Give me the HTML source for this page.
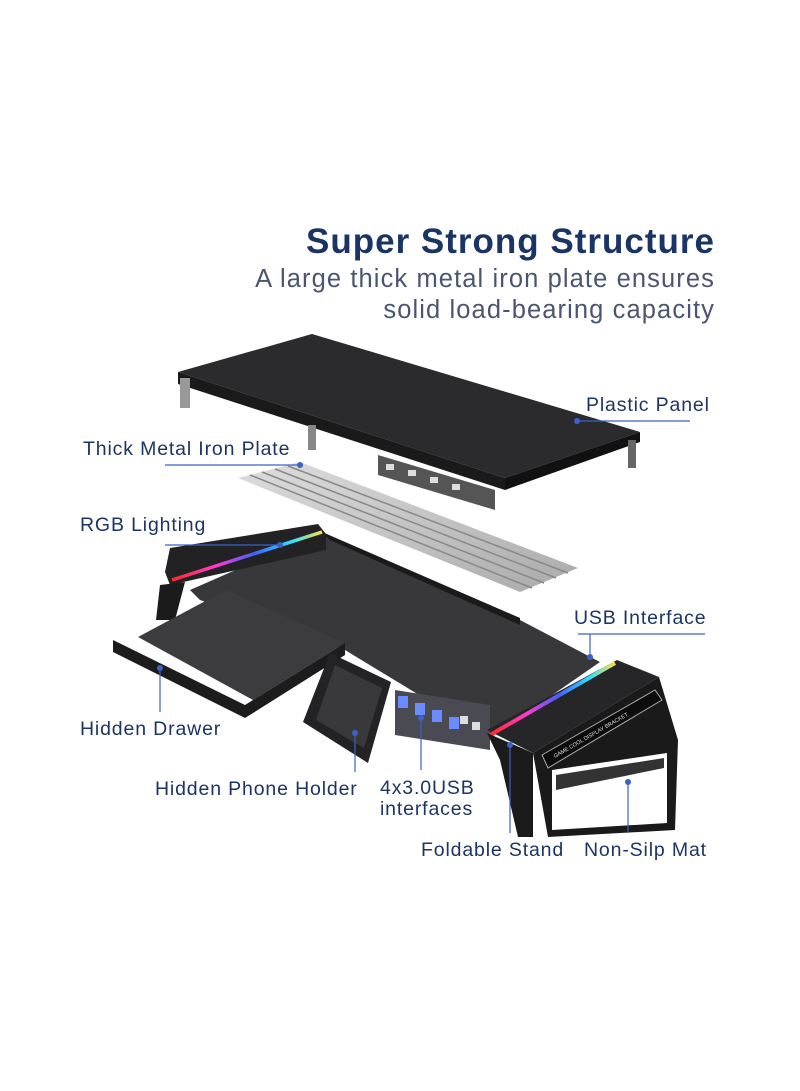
<!DOCTYPE html>
<html><head><meta charset="utf-8"><style>
html,body{margin:0;padding:0;background:#fff;}
body{width:800px;height:1091px;position:relative;overflow:hidden;font-family:"Liberation Sans",sans-serif;}
.t{position:absolute;color:#1d3563;font-size:19.5px;letter-spacing:0.85px;white-space:nowrap;}
</style></head><body>
<div style="position:absolute;right:85px;top:222px;font-size:35px;letter-spacing:1px;font-weight:bold;color:#1a3466;">Super Strong Structure</div>
<div style="position:absolute;right:85px;top:264px;font-size:25.5px;letter-spacing:1.1px;color:#4a5670;text-align:right;line-height:31px;">A large thick metal iron plate ensures<br>solid load-bearing capacity</div>
<svg width="800" height="1091" style="position:absolute;left:0;top:0">
<defs>
<linearGradient id="rgb" x1="0" x2="1"><stop offset="0" stop-color="#ff2a2a"/><stop offset=".3" stop-color="#ff3bd0"/><stop offset=".55" stop-color="#4060ff"/><stop offset=".8" stop-color="#30e0ff"/><stop offset="1" stop-color="#ffe040"/></linearGradient>
<linearGradient id="met" x1="0" x2="1" y1="0" y2="1"><stop offset="0" stop-color="#ddd"/><stop offset="1" stop-color="#aaa"/></linearGradient>
</defs>
<polygon points="178,372 312,334 640,432 505,478" fill="#2b2b2d"/>
<polygon points="505,478 640,432 640,442 505,490" fill="#111"/>
<polygon points="178,372 505,478 505,490 178,384" fill="#1a1a1b"/>
<rect x="180" y="378" width="10" height="30" fill="#999"/>
<rect x="308" y="425" width="8" height="25" fill="#888"/>
<rect x="628" y="440" width="8" height="28" fill="#666"/>
<polygon points="378,455 495,490 495,510 378,475" fill="#555"/>
<g fill="#ddd"><rect x="386" y="464" width="8" height="6"/><rect x="408" y="470" width="8" height="6"/><rect x="430" y="477" width="8" height="6"/><rect x="452" y="484" width="8" height="6"/></g>
<polygon points="238,478 300,462 578,568 520,592" fill="url(#met)"/>
<g stroke="#888" stroke-width="1.5"><line x1="250" y1="475" x2="532" y2="588"/><line x1="262" y1="472" x2="544" y2="583"/><line x1="275" y1="469" x2="556" y2="578"/><line x1="288" y1="466" x2="568" y2="573"/></g>
<polygon points="322,532 520,620 600,662 490,738 345,650 200,600 190,590" fill="#38383a"/>
<polygon points="322,532 330,540 520,625 520,618" fill="#1a1a1a"/>
<polygon points="165,572 170,548 318,524 326,534 326,550 170,585" fill="#222224"/>
<line x1="172" y1="580" x2="322" y2="532" stroke="url(#rgb)" stroke-width="3.5"/>
<polygon points="160,585 185,582 175,620 156,620" fill="#1b1b1c"/>
<polygon points="138,637 226,590 345,643 253,700" fill="#3c3c3e"/>
<polygon points="113,640 245,705 345,643 345,655 245,718 113,652" fill="#1c1c1d"/>
<polygon points="330,653 391,682 368,763 303,722" fill="#232325"/>
<polygon points="335,665 382,688 364,748 316,720" fill="#39393b"/>
<polygon points="395,690 490,705 490,750 395,735" fill="#4a4a52"/>
<g fill="#6b8cff"><rect x="398" y="696" width="10" height="12"/><rect x="415" y="703" width="10" height="12"/><rect x="432" y="710" width="10" height="12"/><rect x="449" y="717" width="10" height="12"/></g>
<g fill="#ddd"><rect x="460" y="716" width="8" height="8"/><rect x="472" y="722" width="8" height="8"/></g>
<polygon points="487,730 617,660 659,677 533,753" fill="#262628"/>
<line x1="490" y1="735" x2="615" y2="663" stroke="url(#rgb)" stroke-width="4"/>
<polygon points="487,733 533,753 533,837 518,837 500,760" fill="#1b1b1c"/>
<polygon points="533,753 659,677 678,740 675,830 548,837" fill="#1a1a1b"/>
<polygon points="552,770 667,753 667,823 552,830" fill="#ffffff"/>
<polygon points="556,775 664,758 664,768 556,790" fill="#333"/>
<polygon points="542,755 655,690 662,700 548,768" fill="#0c0c0c" stroke="#aaa" stroke-width="1"/>
<text x="555" y="758" font-size="5.5" fill="#ddd" transform="rotate(-30 555 758)" font-family="Liberation Sans">GAME COOL DISPLAY BRACKET</text>
<g stroke="#3a62c9" stroke-width="1.2" fill="none">
<line x1="577" y1="421" x2="690" y2="421"/><line x1="165" y1="465" x2="300" y2="465"/><line x1="165" y1="545" x2="280" y2="545"/>
<line x1="590" y1="634" x2="590" y2="657"/><line x1="578" y1="634" x2="705" y2="634"/>
<line x1="160" y1="668" x2="160" y2="712"/><line x1="355" y1="733" x2="355" y2="772"/>
<line x1="421" y1="718" x2="421" y2="770"/><line x1="510" y1="745" x2="510" y2="833"/><line x1="628" y1="782" x2="628" y2="833"/>
</g>
<g fill="#3a62c9"><circle cx="577" cy="421" r="3"/><circle cx="300" cy="465" r="3"/><circle cx="280" cy="545" r="3"/><circle cx="590" cy="657" r="3"/><circle cx="160" cy="668" r="3"/><circle cx="355" cy="733" r="3"/><circle cx="421" cy="718" r="3"/><circle cx="510" cy="745" r="3"/><circle cx="628" cy="782" r="3"/></g>
</svg>
<div class="t" style="left:586px;top:394px">Plastic Panel</div>
<div class="t" style="left:83px;top:438px">Thick Metal Iron Plate</div>
<div class="t" style="left:80px;top:514px">RGB Lighting</div>
<div class="t" style="left:574px;top:607px">USB Interface</div>
<div class="t" style="left:80px;top:718px">Hidden Drawer</div>
<div class="t" style="left:155px;top:778px">Hidden Phone Holder</div>
<div class="t" style="left:380px;top:778px;line-height:21px">4x3.0USB<br>interfaces</div>
<div class="t" style="left:421px;top:839px">Foldable Stand</div>
<div class="t" style="left:584px;top:839px">Non-Silp Mat</div>
</body></html>
